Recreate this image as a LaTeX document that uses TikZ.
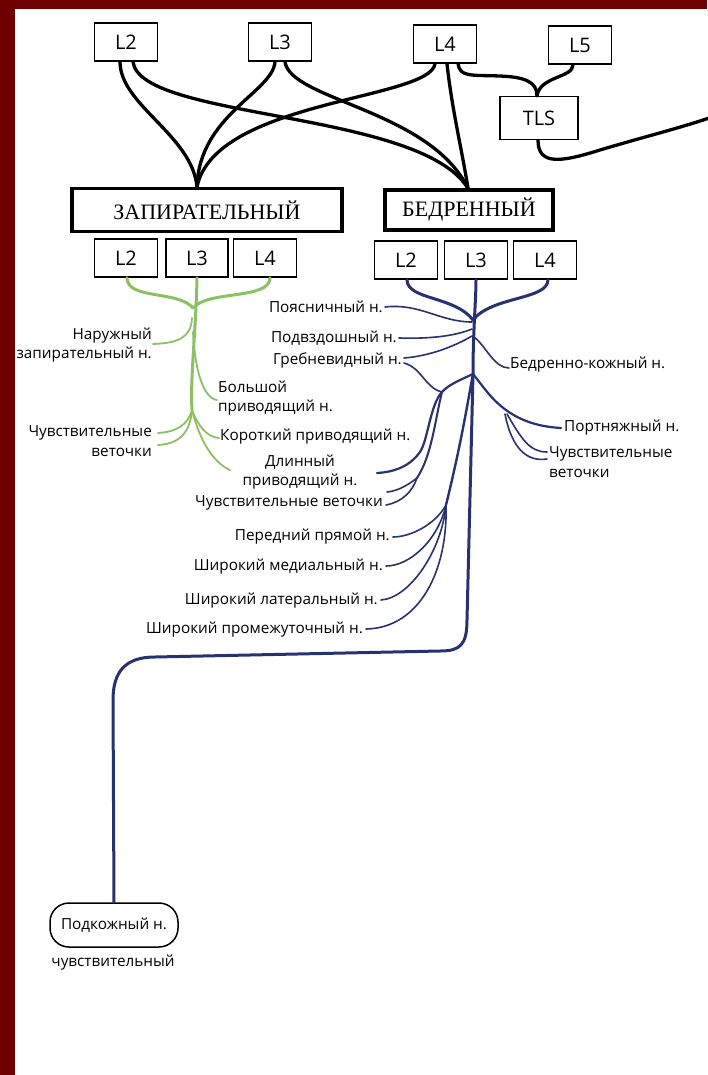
\documentclass[tikz,border=0pt]{standalone}
\usepackage{fontspec}
\setmainfont{Liberation Serif}
\setsansfont{Open Sans}
\definecolor{frame}{RGB}{110,0,0}
\definecolor{grn}{RGB}{140,192,100}
\definecolor{blu}{RGB}{40,50,112}
\begin{document}
\begin{tikzpicture}[x=1pt,y=-1pt,
  lbox/.style={draw, line width=1.5pt, minimum width=63pt, minimum height=38pt, inner sep=0pt,
    font=\sffamily\fontsize{20}{22}\selectfont},
  bigbox/.style={draw, line width=3.2pt, minimum height=43pt, inner sep=0pt,
    font=\rmfamily\fontsize{22}{24}\selectfont},
  blk/.style={line width=3.3pt, line cap=round},
  gtrunk/.style={draw=grn, line width=3pt, line cap=round},
  gbr/.style={draw=grn, line width=1.8pt, line cap=round},
  btrunk/.style={draw=blu, line width=3pt, line cap=round, line join=round},
  bbr/.style={draw=blu, line width=1.6pt, line cap=round},
  lab/.style={font=\sffamily\fontsize{15.3}{19.5}\selectfont, inner sep=1pt},
]
\useasboundingbox (0,0) rectangle (707,1075);
\fill[white] (0,0) rectangle (707,1075);

% ---------- segments and plexus ----------
\node[lbox] (tL2) at (126,42) {L2};
\node[lbox] (tL3) at (280,42) {L3};
\node[lbox] (tL4) at (445,44) {L4};
\node[lbox] (tL5) at (580,45) {L5};
\node[lbox, minimum width=78pt, minimum height=43pt] (tls) at (539,118) {TLS};

\node[bigbox, minimum width=270pt] (obt) at (207,210) {ЗАПИРАТЕЛЬНЫЙ};
\node[bigbox, minimum width=168pt, minimum height=40pt] (fem) at (469,210) {БЕДРЕННЫЙ};

\node[lbox] (oL2) at (126,258) {L2};
\node[lbox, minimum width=62pt] (oL3) at (197,258) {L3};
\node[lbox] (oL4) at (265,258) {L4};
\node[lbox] (fL2) at (406,260) {L2};
\node[lbox] (fL3) at (476,260) {L3};
\node[lbox] (fL4) at (545,260) {L4};

\coordinate (zm) at ([xshift=-10pt]obt.north);
\coordinate (fm) at ([xshift=-1pt]fem.north);
\coordinate (tlsout) at (709,118);

% black roots
\draw[blk] ([xshift=-6pt]tL2.south) .. controls (120,105) and (192,135) .. (zm);
\draw[blk] ([xshift=-5pt]tL3.south) .. controls (273,92) and (199,115) .. (zm);
\draw[blk] ([xshift=-10pt]tL4.south) .. controls (430,100) and (215,100) .. (zm);
\draw[blk] ([xshift=7pt]tL2.south) .. controls (140,120) and (420,110) .. (fm);
\draw[blk] ([xshift=5pt]tL3.south) .. controls (290,100) and (430,110) .. (fm);
\draw[blk] ([xshift=2pt]tL4.south) .. controls (452,110) and (462,150) .. (fm);
\draw[blk] ([xshift=13pt]tL4.south) .. controls (460,77) and (470,75) .. (500,76)
  .. controls (525,77) and (537,82) .. ([xshift=-2pt]tls.north);
\draw[blk] ([xshift=-7pt]tL5.south) .. controls (573,78) and (540,76) .. ([xshift=-2pt]tls.north);
\draw[blk] ([xshift=-1pt]tls.south) .. controls (538,166) and (562,162) .. (600,150)
  .. controls (640,138) and (680,128) .. (tlsout);

% ---------- obturator nerve ----------
\coordinate (gj) at (193,308);
\coordinate (gb) at (192,410);
\node[lab, anchor=east, align=right] (gNar) at (153,345) {Наружный\\запирательный н.};
\node[lab, anchor=west, align=left] (gBol) at (217,398) {Большой\\приводящий н.};
\node[lab, anchor=east, align=right] (gChu) at (153,441) {Чувствительные\\веточки};
\node[lab, anchor=west] (gKor) at (219,437) {Короткий приводящий н.};
\node[lab, align=center] (gDl) at (300,472) {Длинный\\приводящий н.};

\draw[gtrunk] ([xshift=1pt]oL2.south) .. controls (127,300) and (178,290) .. (gj);
\draw[gtrunk] ([xshift=5pt]oL4.south) .. controls (270,300) and (208,290) .. (gj);
\draw[gtrunk] (oL3.south) .. controls (196,330) and (190,380) .. (gb);
\draw[gbr] (192,318) .. controls (191,338) and (178,343) .. ([yshift=1pt]gNar.east);
\draw[gbr] (193,332) .. controls (195,370) and (203,398) .. ([yshift=-2pt]gBol.west);
\draw[gbr] (gb) .. controls (188,425) and (176,432) .. ([yshift=8pt,xshift=5pt]gChu.east);
\draw[gbr] (gb) .. controls (190,434) and (178,444) .. ([yshift=-4pt,xshift=5pt]gChu.east);
\draw[gbr] (gb) .. controls (198,425) and (206,437) .. ([yshift=-1pt]gKor.west);
\draw[gbr] (gb) .. controls (200,442) and (214,463) .. (230,470);

% ---------- femoral nerve ----------
\coordinate (fj) at (473,320);
\coordinate (fs) at (473,374);
\coordinate (fa) at (442,392);
\coordinate (fb) at (446,505);
\coordinate (fc) at (417,478);
\coordinate (fr) at (507,414);

\node[lab, anchor=east] (bPoy) at (384,307) {Поясничный н.};
\node[lab, anchor=east] (bPod) at (398,338) {Подвздошный н.};
\node[lab, anchor=east] (bGre) at (403,360) {Гребневидный н.};
\node[lab, anchor=west] (bBk) at (509,365) {Бедренно-кожный н.};
\node[lab, anchor=west] (bPor) at (563,428) {Портняжный н.};
\node[lab, anchor=west, align=left] (bChr) at (548,462) {Чувствительные\\веточки};
\node[lab, anchor=east] (bChl) at (384,503) {Чувствительные веточки};
\node[lab, anchor=east] (bPer) at (391,537) {Передний прямой н.};
\node[lab, anchor=east] (bMed) at (384,567) {Широкий медиальный н.};
\node[lab, anchor=east] (bLat) at (379,601) {Широкий латеральный н.};
\node[lab, anchor=east] (bPro) at (364,630) {Широкий промежуточный н.};

\node[draw, line width=1.5pt, rounded corners=19pt, minimum width=128pt, minimum height=44pt,
  inner sep=0pt, lab] (pod) at (114,925) {Подкожный н.};
\node[lab] (podt) at (113,963) {чувствительный};

\draw[btrunk] ([xshift=1pt]fL2.south) .. controls (407,300) and (455,296) .. (fj);
\draw[btrunk] ([xshift=3pt]fL4.south) .. controls (548,300) and (492,296) .. (fj);
\draw[btrunk] (fL3.south) .. controls (476,300) and (473,330) .. (fs)
  -- (467,620) .. controls (467,645) and (460,651) .. (440,651)
  -- (155,657) .. controls (125,657) and (113,672) .. (113,700) -- (pod.north);

\draw[bbr] ([xshift=1pt]bPoy.east) .. controls (420,303) and (440,322) .. (472,322);
\draw[bbr] ([xshift=1pt]bPod.east) .. controls (430,339) and (455,336) .. (472,329);
\draw[bbr] ([xshift=1pt,yshift=2pt]bGre.east) .. controls (430,356) and (455,346) .. (472,336);
\draw[bbr] ([xshift=1pt,yshift=-3pt]bGre.east) .. controls (422,368) and (425,388) .. (fa);
\draw[bbr] (474,337) .. controls (486,346) and (494,368) .. ([yshift=-3pt]bBk.west);

% left-down bundle
\draw[btrunk, line width=2.2pt] (fs) .. controls (460,380) and (448,385) .. (fa)
  .. controls (430,405) and (428,440) .. (420,452) .. controls (410,466) and (395,472) .. (377,473);
\draw[bbr, line width=2pt] (fa) .. controls (435,420) and (432,455) .. (fc);
\draw[bbr] (fc) .. controls (408,485) and (398,491) .. (387,492);
\draw[bbr] (fc) .. controls (412,492) and (402,502) .. ([xshift=2pt,yshift=-2pt]bChl.east);
% quadriceps bundle
\draw[btrunk, line width=2.4pt] (fs) .. controls (468,400) and (462,440) .. (fb);
\draw[bbr] (fb) .. controls (435,525) and (410,537) .. ([xshift=2pt]bPer.east);
\draw[bbr] (fb) .. controls (438,540) and (410,566) .. ([xshift=2pt,yshift=1pt]bMed.east);
\draw[bbr] (fb) .. controls (442,550) and (410,598) .. ([xshift=2pt,yshift=1pt]bLat.east);
\draw[bbr] (fb) .. controls (448,570) and (420,628) .. ([xshift=2pt,yshift=1pt]bPro.east);
% right branches
\draw[btrunk, line width=2.2pt] (fs) .. controls (488,392) and (505,425) .. ([xshift=-2pt]bPor.west);
\draw[bbr] (fr) .. controls (522,440) and (530,452) .. ([xshift=-1pt,yshift=10pt]bChr.east -| bChr.west);
\draw[bbr] ([xshift=-2pt]fr) .. controls (512,450) and (528,462) .. ([xshift=-1pt,yshift=3pt]bChr.west);

% ---------- frame ----------
\fill[frame] (0,0) rectangle (707,9);
\fill[frame] (0,0) rectangle (15,1075);
\end{tikzpicture}
\end{document}
